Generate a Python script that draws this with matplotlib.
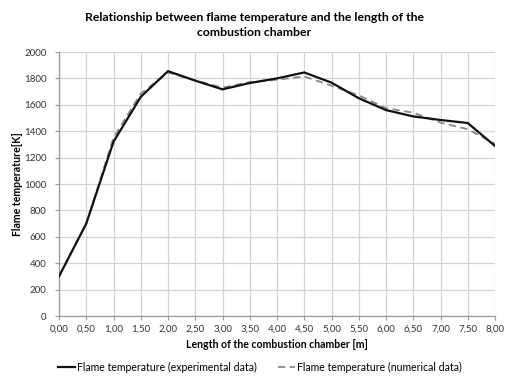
import matplotlib
matplotlib.use("Agg")
import matplotlib.pyplot as plt
from matplotlib.ticker import MultipleLocator, FuncFormatter

plt.rcParams['font.family'] = ['Lato', 'DejaVu Sans']

length_m = [0.0, 0.5, 1.0, 1.5, 2.0, 2.5, 3.0, 3.5, 4.0, 4.5, 5.0, 5.5, 6.0, 6.5, 7.0, 7.5, 8.0]
temp_experimental = [300, 700, 1320, 1660, 1855, 1783, 1717, 1765, 1800, 1845, 1768, 1650, 1560, 1512, 1485, 1462, 1288]
temp_numerical = [300, 700, 1350, 1685, 1845, 1785, 1730, 1772, 1790, 1815, 1745, 1672, 1575, 1540, 1465, 1415, 1305]

fig = plt.figure(figsize=(5.09, 3.77), dpi=100)
ax = fig.add_axes([59 / 509, 1 - 316 / 377, 436 / 509, 264 / 377])

ax.plot(length_m, temp_experimental, color='#111111', lw=1.6, solid_joinstyle='round',
        label='Flame temperature (experimental data)', zorder=3)
ax.plot(length_m, temp_numerical, color='#888888', lw=1.3, dashes=(4, 2.5),
        label='Flame temperature (numerical data)', zorder=2)

ax.set_xlim(0, 8)
ax.set_ylim(0, 2000)
ax.xaxis.set_major_locator(MultipleLocator(0.5))
ax.yaxis.set_major_locator(MultipleLocator(200))
ax.xaxis.set_major_formatter(FuncFormatter(lambda v, p: f"{v:.2f}".replace('.', ',')))
ax.grid(True, color='#d4d4d4', lw=0.9)
ax.set_axisbelow(True)
for s in ['top', 'right']:
    ax.spines[s].set_visible(False)
for s in ['left', 'bottom']:
    ax.spines[s].set_color('#999999')
    ax.spines[s].set_linewidth(0.9)
ax.tick_params(axis='x', length=3, color='#999999', labelsize=7, pad=3, labelcolor='#333333')
ax.tick_params(axis='y', length=3, color='#999999', labelsize=7, pad=6, labelcolor='#333333')

ax.set_xlabel('Length of the combustion chamber [m]', fontsize=7.6, fontweight='bold', labelpad=4)
ax.set_ylabel('Flame temperature[K]', fontsize=7.6, fontweight='bold', labelpad=1)
fig.text(0.5, 1 - 25 / 377, 'Relationship between flame temperature and the length of the\ncombustion chamber',
         ha='center', va='center', fontsize=8.8, fontweight='bold', linespacing=1.4)

fig.legend(loc='center', bbox_to_anchor=(0.51, 1 - 367 / 377), ncol=2, frameon=False,
           fontsize=7.6, handlelength=1.6, handletextpad=0.2, columnspacing=2.0)

fig.savefig('out.png', dpi=100, facecolor='white')
